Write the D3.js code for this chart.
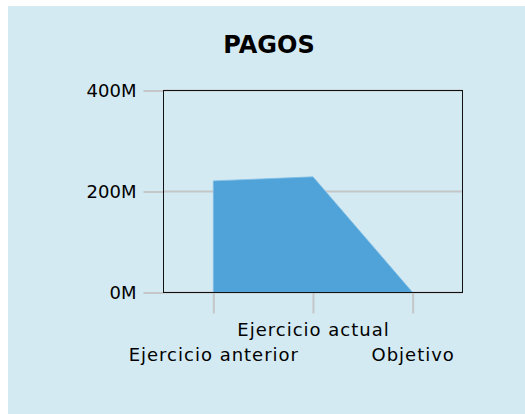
<!DOCTYPE html>
<html lang="en">
<head>
  <meta charset="UTF-8">
  <title>Pagos</title>
  <script src="https://d3js.org/d3.v7.min.js"></script>
  <style>
    body { margin: 0; background: #fff; }
    svg { display: block; font-family: "DejaVu Sans", sans-serif; }
  </style>
</head>
<body>
  <svg width="525" height="414"></svg>
  <script>
    const categories = ["Ejercicio anterior", "Ejercicio actual", "Objetivo"];
    const pagos = [221e6, 229e6, 0];
    const yTicks = [0, 200e6, 400e6];
    const yTickLabels = ["0M", "200M", "400M"];

    const svg = d3.select("svg");
    const plot = { left: 163.5, right: 462.5, top: 90.5, bottom: 292.5 };

    svg.append("rect")
      .attr("x", 8).attr("y", 6)
      .attr("width", 517).attr("height", 408)
      .attr("fill", "#d3eaf2");

    svg.append("text")
      .attr("x", 269).attr("y", 53)
      .attr("text-anchor", "middle")
      .attr("font-size", "24px")
      .attr("font-weight", "bold")
      .attr("fill", "#000")
      .text("PAGOS");

    const x = d3.scalePoint()
      .domain(categories)
      .range([plot.left, plot.right])
      .padding(0.5);

    const y = d3.scaleLinear()
      .domain([0, 400e6])
      .range([plot.bottom, plot.top]);

    const data = categories.map((c, i) => ({ cat: c, value: pagos[i] }));

    // grid lines
    svg.append("g")
      .selectAll("line")
      .data(yTicks)
      .join("line")
      .attr("x1", plot.left).attr("x2", plot.right)
      .attr("y1", d => y(d)).attr("y2", d => y(d))
      .attr("stroke", "#c4c6c8")
      .attr("stroke-width", 2);

    // y axis
    const yAxis = svg.append("g")
      .attr("transform", `translate(${plot.left},0)`)
      .call(d3.axisLeft(y).tickValues(yTicks)
        .tickFormat((d, i) => yTickLabels[i])
        .tickSize(20).tickPadding(7));
    yAxis.select(".domain").remove();
    yAxis.selectAll(".tick line").attr("stroke", "#c4c6c8").attr("stroke-width", 2);
    yAxis.selectAll(".tick text")
      .attr("font-size", "18px")
      .attr("font-family", "DejaVu Sans, sans-serif")
      .attr("fill", "#000");

    // x axis
    const xAxis = svg.append("g")
      .attr("transform", `translate(0,${plot.bottom})`)
      .call(d3.axisBottom(x).tickSize(21).tickPadding(0));
    xAxis.select(".domain").remove();
    xAxis.selectAll(".tick line").attr("stroke", "#c4c6c8").attr("stroke-width", 2);
    xAxis.selectAll(".tick text")
      .attr("font-size", "18px")
      .attr("font-family", "DejaVu Sans, sans-serif")
      .attr("letter-spacing", "1px")
      .attr("fill", "#000")
      .attr("dy", null)
      .attr("y", (d, i) => i % 2 === 1 ? 43 : 68);

    // area
    const area = d3.area()
      .x(d => x(d.cat))
      .y0(y(0))
      .y1(d => y(d.value));

    svg.append("path")
      .datum(data)
      .attr("d", area)
      .attr("fill", "#4fa3d9")
      .attr("stroke", "#7fbde4")
      .attr("stroke-width", 0.8);

    // plot frame
    svg.append("rect")
      .attr("x", plot.left).attr("y", plot.top)
      .attr("width", plot.right - plot.left)
      .attr("height", plot.bottom - plot.top)
      .attr("fill", "none")
      .attr("stroke", "#111")
      .attr("stroke-width", 1);
  </script>
</body>
</html>
